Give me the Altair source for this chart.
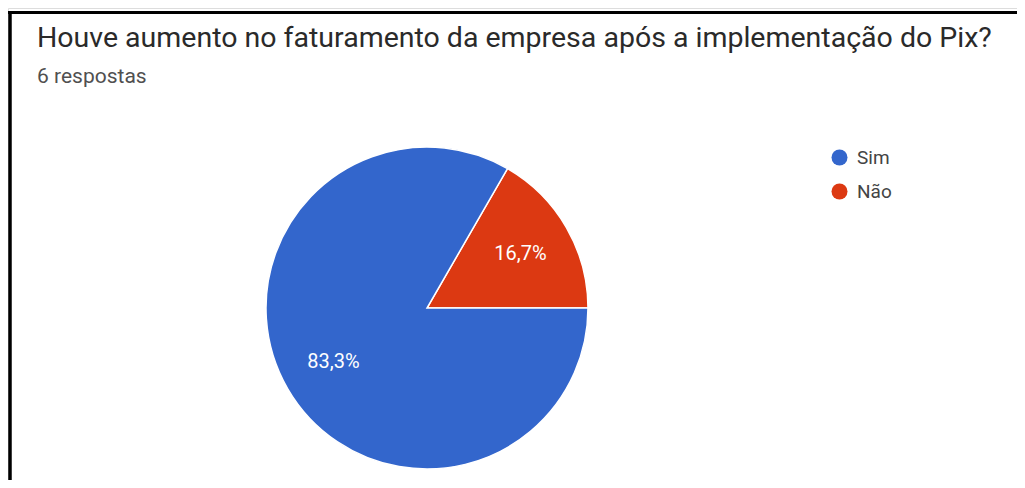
import math
import altair as alt
import pandas as pd

# Data
categorias = ["Não", "Sim"]
respostas = [1, 5]
rotulos = ["16,7%", "83,3%"]
ordem = [0, 1]

titulo = "Houve aumento no faturamento da empresa após a implementação do Pix?"
subtitulo = "6 respostas"

legenda_ordem = ["Sim", "Não"]
cores = ["#3366cc", "#dc3912"]

df = pd.DataFrame({"categoria": categorias, "n": respostas, "rotulo": rotulos, "ordem": ordem})

W, H = 1009, 472
CX, CY = 419, 300
R = 161

theta_scale = alt.Scale(range=[math.pi / 6, math.pi / 6 + 2 * math.pi])
color_scale = alt.Scale(domain=legenda_ordem, range=cores)

base = alt.Chart(df)

pie = base.mark_arc(stroke="white", strokeWidth=1.5, radius=R).encode(
    theta=alt.Theta("n:Q", stack=True, scale=theta_scale),
    color=alt.Color(
        "categoria:N",
        scale=color_scale,
        legend=alt.Legend(
            title=None,
            orient="none",
            legendX=822,
            legendY=140,
            symbolType="circle",
            symbolSize=256,
            symbolStrokeWidth=0,
            labelFont="Roboto",
            labelFontSize=19,
            labelColor="#444444",
            labelOffset=8,
            rowPadding=14,
        ),
    ),
    order=alt.Order("ordem:Q"),
    x=alt.value(CX),
    y=alt.value(CY),
)

labels = base.mark_text(
    radius=108, font="Roboto", fontSize=20, color="white", align="center", baseline="middle"
).encode(
    theta=alt.Theta("n:Q", stack=True, scale=theta_scale),
    text="rotulo:N",
    order=alt.Order("ordem:Q"),
    x=alt.value(CX),
    y=alt.value(CY),
)

one = alt.Data(values=[{}])

title_mark = alt.Chart(one).mark_text(
    text=titulo, font="Roboto", fontSize=28.5, color="#2a2a2a", align="left", baseline="alphabetic"
).encode(x=alt.value(29), y=alt.value(39))

sub_mark = alt.Chart(one).mark_text(
    text=subtitulo, font="Roboto", fontSize=21, color="#505050", align="left", baseline="alphabetic"
).encode(x=alt.value(29), y=alt.value(75))

top_rule = alt.Chart(one).mark_rule(color="black", strokeWidth=3).encode(
    x=alt.value(0), x2=alt.value(W), y=alt.value(4.5)
)
left_rule = alt.Chart(one).mark_rule(color="black", strokeWidth=3.5).encode(
    x=alt.value(2), y=alt.value(3), y2=alt.value(H)
)

chart = alt.layer(pie, labels, title_mark, sub_mark, top_rule, left_rule).properties(
    width=W, height=H, padding=0, autosize="none"
).configure_view(stroke=None).configure(background="white")

chart.save("out.html", embed_options={"renderer": "svg", "actions": False})
